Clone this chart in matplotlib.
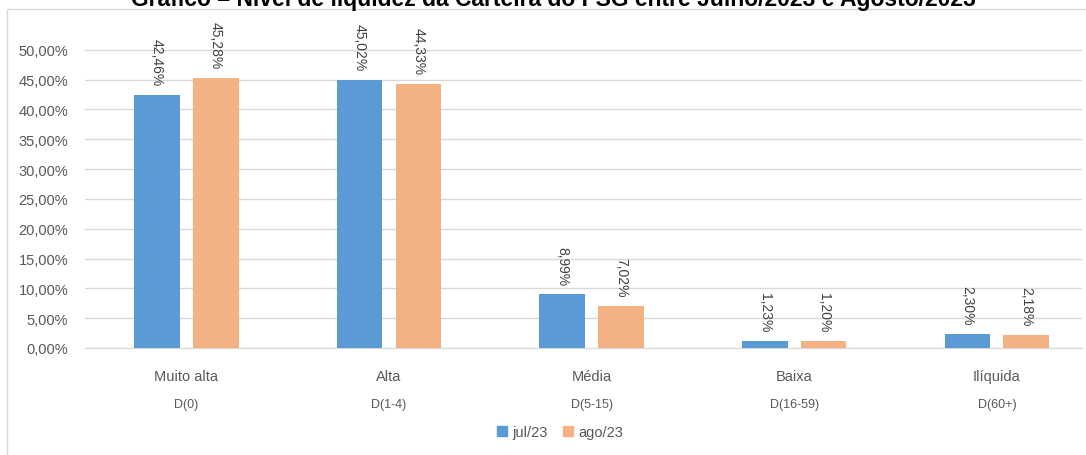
import matplotlib
matplotlib.use('Agg')
import matplotlib.pyplot as plt
import matplotlib.transforms as mtransforms
from matplotlib.patches import Rectangle, Patch
import numpy as np

categories = ['Muito alta', 'Alta', 'Média', 'Baixa', 'Ilíquida']
prazos = ['D(0)', 'D(1-4)', 'D(5-15)', 'D(16-59)', 'D(60+)']
jul23 = [42.46, 45.02, 8.99, 1.23, 2.30]
ago23 = [45.28, 44.33, 7.02, 1.20, 2.18]
series_names = ['jul/23', 'ago/23']
yticks = [0, 5, 10, 15, 20, 25, 30, 35, 40, 45, 50]
title = 'Gráfico – Nível de liquidez da Carteira do FSG entre Julho/2023 e Agosto/2023'

blue = '#5B9BD5'
orange = '#F4B183'
text_gray = '#595959'


def fmt(v):
    return f'{v:.2f}'.replace('.', ',') + '%'


def main():
    plt.rcParams['font.family'] = ['Liberation Sans', 'DejaVu Sans']
    W, H = 1086, 456
    fig = plt.figure(figsize=(W / 100, H / 100), dpi=100)
    ax = fig.add_axes([85 / W, 107 / H, 997 / W, 328 / H])

    x = np.arange(len(categories))
    width = 0.225
    off = 0.145
    bars1 = ax.bar(x - off, jul23, width, color=blue, zorder=3)
    bars2 = ax.bar(x + off, ago23, width, color=orange, zorder=3)

    # value labels, rotated like the original
    for bars, vals in [(bars1, jul23), (bars2, ago23)]:
        for b, v in zip(bars, vals):
            ax.annotate(fmt(v), (b.get_x() + b.get_width() / 2, v),
                        xytext=(0, 7), textcoords='offset points',
                        rotation=270, ha='center', va='bottom',
                        fontsize=10, color='#404040')

    ax.set_xlim(-0.5, 4.42)
    ax.set_ylim(0, 55)
    ax.set_yticks(yticks)
    ax.set_yticklabels([fmt(t) for t in yticks], fontsize=10.5, color=text_gray)
    ax.set_xticks(x)
    ax.set_xticklabels(categories, fontsize=10.5, color=text_gray)
    ax.tick_params(axis='x', length=0, pad=15)
    ax.tick_params(axis='y', length=0, pad=12)
    ax.yaxis.grid(True, color='#D9D9D9', linewidth=1, zorder=0)
    for s in ['top', 'right', 'left']:
        ax.spines[s].set_visible(False)
    ax.spines['bottom'].set_color('#D9D9D9')

    # second line of the category labels
    trans = mtransforms.blended_transform_factory(ax.transData, ax.transAxes)
    for i, p in enumerate(prazos):
        ax.text(i, -0.17, p, transform=trans, ha='center', va='center',
                fontsize=9, color=text_gray)

    # legend
    handles = [Patch(color=blue, label=series_names[0]),
               Patch(color=orange, label=series_names[1])]
    fig.legend(handles=handles, loc='center', bbox_to_anchor=(560 / W, 1 - 433 / H),
               ncol=2, frameon=False, fontsize=10.5, handlelength=0.7,
               handleheight=0.7, handletextpad=0.4, columnspacing=1.0,
               labelcolor=text_gray)

    # chart border; the title sits partly above the image top, as in the source
    fig.patches.append(Rectangle((7 / W, -0.05), 1.1, 1 - 10 / H + 0.05,
                                 transform=fig.transFigure, fill=False,
                                 edgecolor='#D9D9D9', linewidth=1))
    fig.text(553 / W, 1 - 6 / H, title, ha='center', va='baseline',
             fontsize=16.5, fontweight='bold', color='black')

    fig.savefig('out.png', dpi=100)


if __name__ == '__main__':
    main()
